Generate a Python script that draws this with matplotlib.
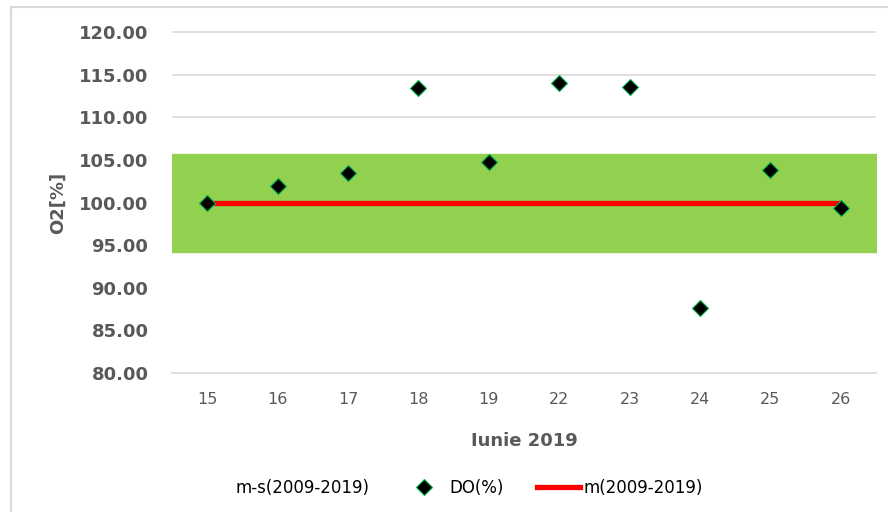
import numpy as np
import matplotlib.pyplot as plt
from matplotlib.patches import Rectangle, Patch
from matplotlib.lines import Line2D

# days of June 2019 and dissolved oxygen saturation
days = ['15', '16', '17', '18', '19', '22', '23', '24', '25', '26']
do_pct = [100.0, 101.9, 103.45, 113.4, 104.7, 114.0, 113.6, 87.6, 103.8, 99.3]

# multi-year mean and band (2009-2019)
mean_val = 100.0
lower_val = 94.2   # m-s
upper_val = 105.7  # m+s

gray = '#595959'

fig = plt.figure(figsize=(8.88, 5.12), dpi=100)
# chart frame
fig.patches.append(Rectangle((11/888, -0.1), 1.2, 1 - 7/512 + 0.1, transform=fig.transFigure,
                             fill=False, edgecolor='#d9d9d9', linewidth=1.5))

ax = fig.add_axes([172/888, 1 - 373/512, 704/888, 341/512])
x = np.arange(len(days))
xband = np.array([-0.5, len(days) - 0.5])
yticks = np.arange(80, 121, 5)

ax.set_ylim(80, 120)
ax.set_xlim(-0.5, len(days) - 0.5)
ax.set_yticks(yticks)
# grid only shows above the band (the white area below hides it)
ax.hlines(yticks[yticks > upper_val], -0.5, len(days) - 0.5, color='#d9d9d9',
          linewidth=1.2, zorder=0, clip_on=False)

# white area below the band, green band m-s .. m+s
ax.fill_between(xband, 80, lower_val, color='white', zorder=1)
ax.fill_between(xband, lower_val, upper_val, color='#92d050', zorder=1)

ax.plot(x, [mean_val] * len(days), color='#ff0000', linewidth=3.8, zorder=3,
        solid_capstyle='butt')
ax.plot(x, do_pct, linestyle='none', marker='D', markersize=8.5, color='black',
        markeredgecolor='#00b050', markeredgewidth=0.8, zorder=4)

ax.set_xticks(x)
ax.set_xticklabels(days, fontsize=11.5, color=gray)
ax.set_yticklabels(['%.2f' % v for v in yticks], fontsize=13,
                   fontweight='bold', color=gray)
ax.tick_params(length=0)
ax.tick_params(axis='x', pad=14)
ax.tick_params(axis='y', pad=17)
for s in ['top', 'right', 'left']:
    ax.spines[s].set_visible(False)
ax.spines['bottom'].set_color('#d9d9d9')
ax.spines['bottom'].set_linewidth(1.2)
ax.spines['bottom'].set_zorder(5)

ax.set_ylabel('O2[%]', fontsize=13, fontweight='bold', color=gray)
ax.yaxis.set_label_coords(-0.149, 0.5)
ax.set_xlabel('Iunie 2019', fontsize=13, fontweight='bold', color=gray)
ax.xaxis.set_label_coords(0.5, -0.173)

handles = [Patch(facecolor='white', edgecolor='none'),
           Line2D([], [], linestyle='none', marker='D', markersize=8, color='black',
                  markeredgecolor='#00b050', markeredgewidth=0.8),
           Line2D([], [], color='#ff0000', linewidth=3.8)]
labels = ['m-s(2009-2019)', 'DO(%)', 'm(2009-2019)']
fig.legend(handles, labels, loc='center', bbox_to_anchor=(0.502, 1 - 488/512), ncol=3,
           frameon=False, fontsize=12, handlelength=2.6, handletextpad=0.2,
           columnspacing=2.0)

fig.savefig('out.png', dpi=100)
